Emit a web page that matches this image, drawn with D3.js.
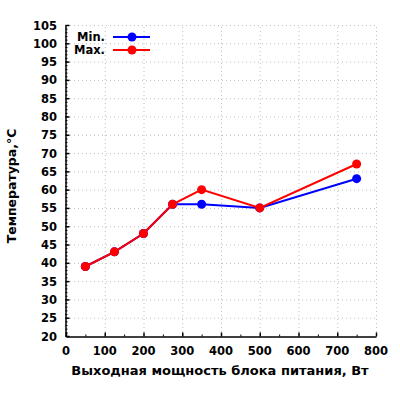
<!DOCTYPE html>
<html>
<head>
<meta charset="utf-8">
<script src="https://d3js.org/d3.v7.min.js"></script>
<style>
  body { margin: 0; background: #fff; }
  text { font-family: "DejaVu Sans", Verdana, sans-serif; font-weight: bold; fill: #000; }
</style>
</head>
<body>
<script>
// data
var power = [50, 125, 200, 275, 350, 500, 750];
var tMin = [39, 43, 48, 56, 56, 55, 63];
var tMax = [39, 43, 48, 56, 60, 55, 67];
var seriesNames = ["Min.", "Max."];
var seriesColors = ["#0000ff", "#ff0000"];
var xTicks = [0, 100, 200, 300, 400, 500, 600, 700, 800];
var yTicks = [20, 25, 30, 35, 40, 45, 50, 55, 60, 65, 70, 75, 80, 85, 90, 95, 100, 105];

var W = 400, H = 400;
var padL = 66, padR = 376, padT = 25, padB = 336;

var svg = d3.select("body").append("svg")
  .attr("width", W)
  .attr("height", H);

var x = d3.scaleLinear().domain([0, 800]).range([padL, padR]);
var y = d3.scaleLinear().domain([20, 105]).range([padB, padT]);

// grid
svg.append("g").selectAll("line")
  .data(xTicks.slice(1))
  .enter().append("line")
  .attr("x1", function(d){ return x(d) + 0.5; })
  .attr("x2", function(d){ return x(d) + 0.5; })
  .attr("y1", padB).attr("y2", padT)
  .attr("stroke", "#c0c0c0").attr("stroke-width", 1)
  .attr("stroke-dasharray", "1,3");
svg.append("g").selectAll("line")
  .data(yTicks.slice(1))
  .enter().append("line")
  .attr("x1", padL).attr("x2", padR)
  .attr("y1", function(d){ return y(d) + 0.5; })
  .attr("y2", function(d){ return y(d) + 0.5; })
  .attr("stroke", "#c0c0c0").attr("stroke-width", 1)
  .attr("stroke-dasharray", "1,3");

// x axis (ticks inward)
var xAxis = d3.axisTop(x).tickValues(xTicks).tickSize(4).tickSizeOuter(0).tickFormat("");
var gx = svg.append("g").attr("transform", "translate(0," + (padB + 0.5) + ")").call(xAxis);
var xMinor = d3.axisTop(x).tickValues(d3.range(50, 800, 100)).tickSize(2).tickFormat("");
var gxm = svg.append("g").attr("transform", "translate(0," + (padB + 0.5) + ")").call(xMinor);
gxm.select(".domain").remove();
gx.selectAll("path, line").attr("stroke", "#000").attr("stroke-width", 1.5);
gxm.selectAll("line").attr("stroke", "#000");

svg.append("g").selectAll("text")
  .data(xTicks)
  .enter().append("text")
  .attr("x", function(d){ return x(d); })
  .attr("y", padB + 19)
  .attr("text-anchor", "middle")
  .attr("font-size", 11.5)
  .text(function(d){ return d; });

// y axis (ticks inward)
var yAxis = d3.axisRight(y).tickValues(yTicks).tickSize(4).tickSizeOuter(0).tickFormat("");
var gy = svg.append("g").attr("transform", "translate(" + (padL - 0.5) + ",0)").call(yAxis);
var yMinor = d3.axisRight(y).tickValues(d3.range(20, 106, 1)).tickSize(2).tickFormat("");
var gym = svg.append("g").attr("transform", "translate(" + (padL - 0.5) + ",0)").call(yMinor);
gym.select(".domain").remove();
gy.selectAll("path, line").attr("stroke", "#000").attr("stroke-width", 1.5);
gym.selectAll("line").attr("stroke", "#000");

svg.append("g").selectAll("text")
  .data(yTicks)
  .enter().append("text")
  .attr("x", padL - 9)
  .attr("y", function(d){ return y(d) + 4.5; })
  .attr("text-anchor", "end")
  .attr("font-size", 11.5)
  .text(function(d){ return d; });

// titles
svg.append("text")
  .attr("x", 220).attr("y", 375)
  .attr("text-anchor", "middle")
  .attr("font-size", 13)
  .text("Выходная мощность блока питания, Вт");
svg.append("text")
  .attr("transform", "translate(16,186) rotate(-90)")
  .attr("text-anchor", "middle")
  .attr("font-size", 12.5)
  .text("Температура,°C");

// series
var series = [tMin, tMax];
var line = d3.line()
  .x(function(d, i){ return x(power[i]); })
  .y(function(d){ return y(d); });

series.forEach(function(s, k) {
  svg.append("path")
    .datum(s)
    .attr("d", line)
    .attr("fill", "none")
    .attr("stroke", seriesColors[k])
    .attr("stroke-width", 2);
  svg.append("g").selectAll("circle")
    .data(s)
    .enter().append("circle")
    .attr("cx", function(d, i){ return x(power[i]); })
    .attr("cy", function(d){ return y(d); })
    .attr("r", 4.5)
    .attr("fill", seriesColors[k]);
});

// legend
seriesNames.forEach(function(n, k) {
  var ly = 37 + k * 13;
  svg.append("text")
    .attr("x", 105).attr("y", ly + 4)
    .attr("text-anchor", "end")
    .attr("font-size", 11.5)
    .text(n);
  svg.append("line")
    .attr("x1", 113).attr("x2", 150)
    .attr("y1", ly).attr("y2", ly)
    .attr("stroke", seriesColors[k]).attr("stroke-width", 2);
  svg.append("circle")
    .attr("cx", 132).attr("cy", ly).attr("r", 4.5)
    .attr("fill", seriesColors[k]);
});
</script>
</body>
</html>
